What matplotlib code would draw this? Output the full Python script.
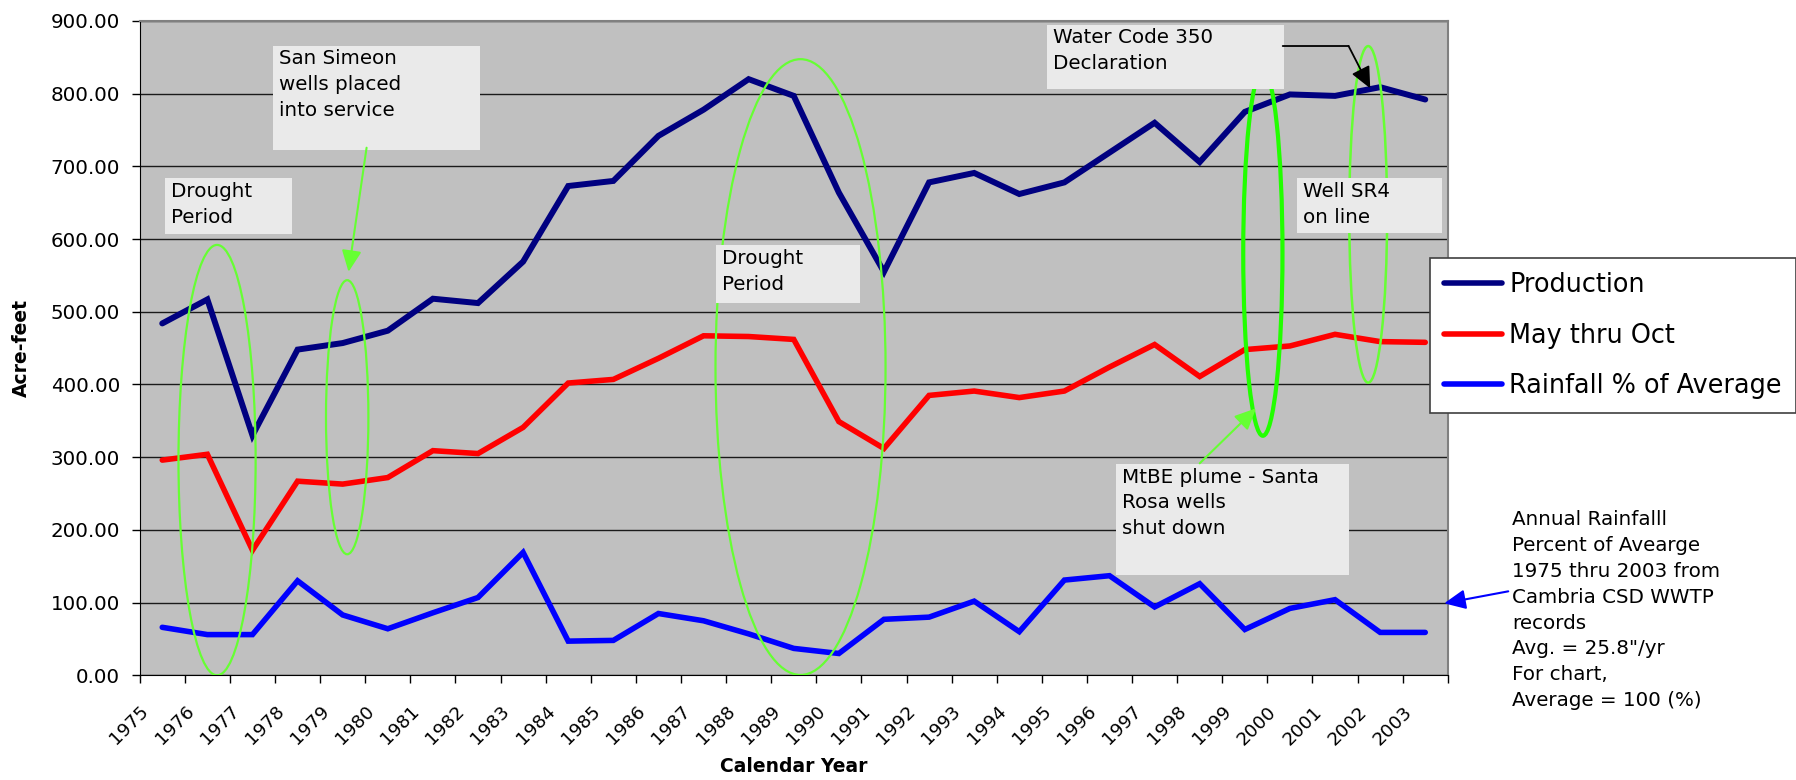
import numpy as np
import matplotlib
matplotlib.use("Agg")
import matplotlib.pyplot as plt
from matplotlib.patches import Ellipse, Rectangle

years = [str(y) for y in range(1975, 2004)]

production = [484, 517, 330, 448, 457, 474, 518, 512, 569, 673, 680, 742, 778, 820, 797,
              664, 555, 678, 691, 662, 678, 719, 760, 706, 775, 799, 797, 809, 792]
may_oct = [296, 304, 172, 267, 263, 272, 309, 305, 341, 402, 407, 436, 467, 466, 462,
           349, 312, 385, 391, 382, 391, 424, 455, 411, 448, 453, 469, 459, 458]
rainfall = [66, 56, 56, 130, 83, 64, 86, 107, 169, 47, 48, 85, 75, 57, 37,
            30, 77, 80, 102, 60, 131, 137, 94, 126, 63, 92, 104, 59, 59]

W, H = 1796, 780
FS = 14.3
LS = 1.46
GREEN = "#66FF33"

fig = plt.figure(figsize=(W / 100, H / 100), dpi=100)
ax = fig.add_axes([139.7 / W, 1 - 675.3 / H, (1447.8 - 139.7) / W, (675.3 - 21) / H])
ax.set_facecolor("#C0C0C0")

x = np.arange(len(years)) + 0.5
ax.plot(x, production, color="#000080", lw=4.3, label="Production",
        solid_capstyle="round", solid_joinstyle="miter", zorder=3)
ax.plot(x, may_oct, color="#FF0000", lw=4.0, label="May thru Oct",
        solid_capstyle="round", solid_joinstyle="miter", zorder=3)
ax.plot(x, rainfall, color="#0000FF", lw=4.0, label="Rainfall % of Average",
        solid_capstyle="round", solid_joinstyle="miter", zorder=3)

ax.set_xlim(0, len(years))
ax.set_ylim(0, 900)
ax.set_yticks(np.arange(0, 901, 100))
ax.set_yticklabels([f"{v:.2f}" for v in range(0, 901, 100)], fontsize=FS)
ax.set_xticks(np.arange(len(years) + 1))
ax.set_xticklabels(years + [""], fontsize=13.2, rotation=45, ha="right", va="top",
                   rotation_mode="anchor")
ax.tick_params(axis="y", length=6, width=1, pad=8)
ax.tick_params(axis="x", length=5.5, width=1, pad=14)
ax.grid(axis="y", color="#1a1a1a", lw=1)
ax.set_axisbelow(True)
for side in ("left", "bottom"):
    ax.spines[side].set_color("black")
for side in ("top", "right"):
    ax.spines[side].set_color("#808080")
    ax.spines[side].set_linewidth(1.5)

ax.set_ylabel("Acre-feet", fontsize=13.5, fontweight="bold", labelpad=14)
ax.set_xlabel("Calendar Year", fontsize=13.5, fontweight="bold", labelpad=6)

# green highlight ellipses
for cx, cy, w, h, lw, col in [(1.715, 296, 1.71, 592, 1.6, GREEN),
                              (4.60, 355, 0.94, 377, 1.6, GREEN),
                              (14.65, 424, 3.77, 847, 1.6, GREEN),
                              (24.90, 581, 0.87, 503, 3.0, "#22FF00"),
                              (27.235, 634, 0.84, 463, 1.8, GREEN)]:
    ax.add_patch(Ellipse((cx, cy), w, h, fill=False, edgecolor=col, lw=lw, zorder=4))

# note boxes
def note(x0, x1, y0, y1, text):
    ax.add_patch(Rectangle((x0, y0), x1 - x0, y1 - y0, facecolor="#EAEAEA",
                           edgecolor="none", zorder=5))
    ax.annotate(text, (x0, y1), xytext=(4.3, -2.5), textcoords="offset points",
                ha="left", va="top", fontsize=FS, linespacing=LS, zorder=6)

note(0.568, 3.370, 606.6, 683.6, "Drought\nPeriod")
note(2.955, 7.540, 723, 865.6, "San Simeon\nwells placed\ninto service")
note(12.778, 15.971, 512.5, 591.5, "Drought\nPeriod")
note(20.124, 25.374, 806.5, 894.5, "Water Code 350\nDeclaration")
note(25.66, 28.87, 608, 683.6, "Well SR4\non line")
note(21.64, 26.80, 138, 290.6, "MtBE plume - Santa\nRosa wells\nshut down")

# arrows
green_arrow = dict(arrowstyle="-|>,head_length=1.3,head_width=0.6", color=GREEN,
                   lw=1.5, shrinkA=0, shrinkB=0)
ax.annotate("", xy=(4.63, 555), xytext=(5.03, 725.7), arrowprops=green_arrow, zorder=7)
ax.annotate("", xy=(24.75, 367.3), xytext=(23.5, 291.6), arrowprops=green_arrow, zorder=7)
ax.annotate("", xy=(26.8, 865.6), xytext=(25.34, 865.6),
            arrowprops=dict(arrowstyle="-", color="black", lw=1.3, shrinkA=0, shrinkB=0),
            zorder=7)
ax.annotate("", xy=(27.28, 807.4), xytext=(26.8, 865.6),
            arrowprops=dict(arrowstyle="-|>,head_length=1.3,head_width=0.6", color="black",
                            lw=1.3, shrinkA=0, shrinkB=0), zorder=7)
ax.annotate("", xy=(28.92, 99), xytext=(30.34, 115.5), annotation_clip=False,
            arrowprops=dict(arrowstyle="-|>,head_length=1.3,head_width=0.6", color="#0000FF",
                            lw=1.5, shrinkA=0, shrinkB=0), zorder=7)

fig.text(1512.4 / W, 1 - 510 / H,
         "Annual Rainfalll\nPercent of Avearge\n1975 thru 2003 from\nCambria CSD WWTP\n"
         "records\nAvg. = 25.8\"/yr\nFor chart,\nAverage = 100 (%)",
         ha="left", va="top", fontsize=FS, linespacing=LS)

leg = ax.legend(loc="upper left", bbox_to_anchor=(1430 / W, 1 - 258.3 / H),
                bbox_transform=fig.transFigure, fontsize=18.4, frameon=True,
                fancybox=False, edgecolor="#404040", framealpha=1, borderaxespad=0,
                borderpad=0.55, handlelength=2.25, handletextpad=0.3, labelspacing=0.95)
leg.get_frame().set_linewidth(1.2)
for line in leg.get_lines():
    line.set_linewidth(4)
    line.set_solid_capstyle("round")

fig.savefig("out.png", dpi=100)
